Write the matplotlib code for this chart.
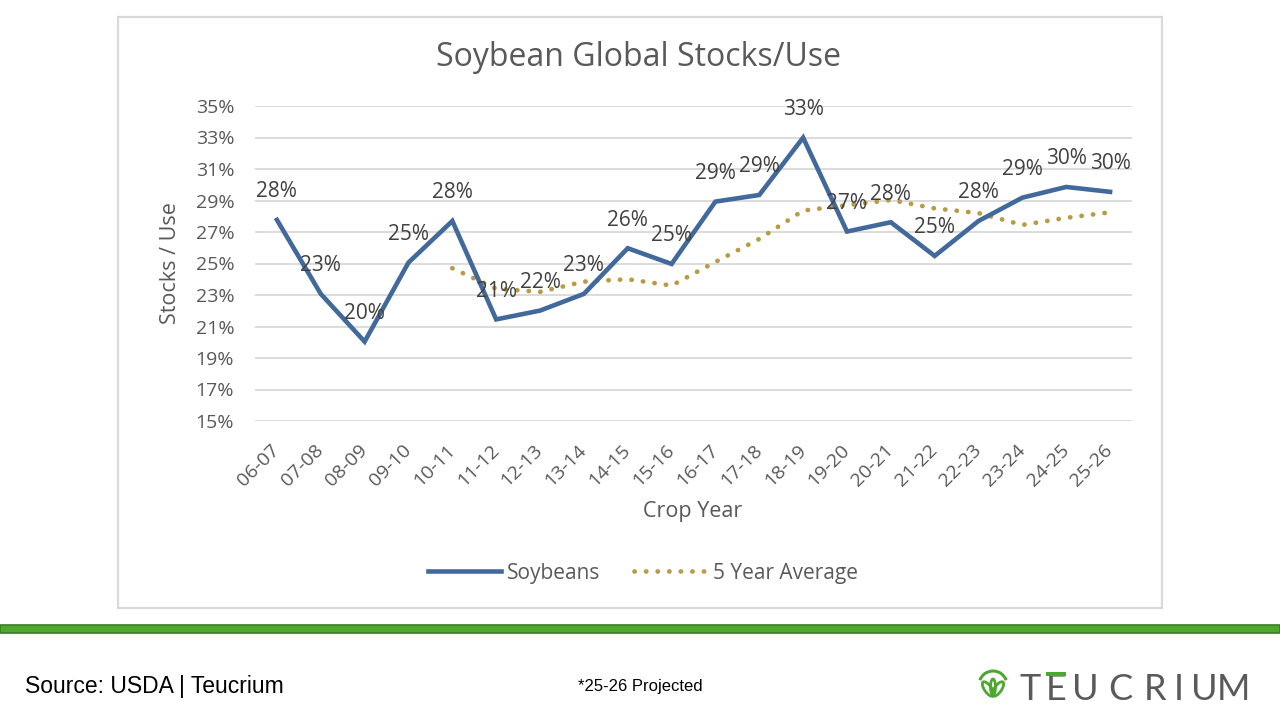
import matplotlib
matplotlib.use("Agg")
import matplotlib.pyplot as plt
from matplotlib.patches import Rectangle, Arc, Ellipse
import matplotlib.transforms as mtransforms

crop_years = ["06-07", "07-08", "08-09", "09-10", "10-11", "11-12", "12-13", "13-14",
              "14-15", "15-16", "16-17", "17-18", "18-19", "19-20", "20-21", "21-22",
              "22-23", "23-24", "24-25", "25-26"]
soybeans = [27.77, 23.07, 20.04, 25.06, 27.70, 21.45, 22.01, 23.07, 25.97, 24.97,
            28.93, 29.35, 32.99, 27.03, 27.62, 25.48, 27.70, 29.18, 29.86, 29.55]
five_year_avg = [None, None, None, None, 24.7, 23.4, 23.2, 23.85, 24.0, 23.6,
                 25.1, 26.56, 28.36, 28.7, 29.03, 28.5, 28.2, 27.45, 27.9, 28.25]
y_ticks = [15, 17, 19, 21, 23, 25, 27, 29, 31, 33, 35]

plt.rcParams['font.family'] = ['Open Sans', 'DejaVu Sans']
TXT = '#595959'
BLUE = '#42699c'
GOLD = '#b89b45'

fig = plt.figure(figsize=(12.8, 7.2), dpi=100)
fig.patch.set_facecolor('white')

# chart frame
fig.patches.append(Rectangle((118/1280, 1-608/720), 1044/1280, 591/720,
                             transform=fig.transFigure, fill=False,
                             edgecolor='#d9d9d9', lw=1.6, zorder=0))
# green band
fig.patches.append(Rectangle((0, 1-633/720), 1, 8/720, transform=fig.transFigure,
                             facecolor='#4ea72e', edgecolor='#3b7d23', lw=1.2, zorder=0))

ax = fig.add_axes([255/1280, 1-421/720, 877/1280, 315/720])
x = list(range(len(crop_years)))
ax.plot(x, soybeans, color=BLUE, lw=3.3, solid_joinstyle='miter', label='Soybeans', zorder=3)
avg_x = [i for i, v in zip(x, five_year_avg) if v is not None]
avg_y = [v for v in five_year_avg if v is not None]
ax.plot(avg_x, avg_y, color=GOLD, lw=3.4, linestyle=(0, (0.05, 2.4)),
        dash_capstyle='round', label='5 Year Average', zorder=2)

for xi, v in zip(x, soybeans):
    ax.annotate(f"{v:.0f}%", (xi, v), xytext=(0, 28), textcoords='offset pixels',
                ha='center', va='center', fontsize=15, color='#404040', zorder=4)

ax.set_xlim(-0.5, len(crop_years) - 0.5)
ax.set_ylim(15, 35)
ax.set_yticks(y_ticks)
ax.set_yticklabels([f"{t}%" for t in y_ticks])
ax.set_xticks(x)
ax.set_xticklabels(crop_years, rotation=45, ha='right', va='center', rotation_mode='anchor')
offset = mtransforms.ScaledTranslation(9/100, 0, fig.dpi_scale_trans)
for lab in ax.get_xticklabels():
    lab.set_transform(lab.get_transform() + offset)
ax.tick_params(axis='both', length=0, labelsize=14, labelcolor=TXT)
ax.tick_params(axis='y', pad=15)
ax.tick_params(axis='x', pad=19)
ax.grid(axis='y', color='#d9d9d9', lw=1.3)
ax.set_axisbelow(True)
for s in ax.spines.values():
    s.set_visible(False)

fig.text(639/1280, 1-58/720, "Soybean Global Stocks/Use", ha='center', va='center',
         fontsize=23, color=TXT)
fig.text(693/1280, 1-511/720, "Crop Year", ha='center', va='center', fontsize=15.5, color=TXT)
fig.text(171/1280, 1-263/720, "Stocks / Use", ha='center', va='center', rotation=90,
         fontsize=15.5, color=TXT)

fig.legend(loc='center', bbox_to_anchor=(643/1280, 1-573/720), ncol=2, frameon=False,
           fontsize=15, handlelength=3.5, handletextpad=0.3, columnspacing=1.6,
           labelcolor=TXT)

# footer
fig.text(25/1280, 1-686/720, "Source: USDA | Teucrium", ha='left', va='center',
         fontsize=16.5, color='black', family=['Liberation Sans Narrow', 'Liberation Sans'])
fig.text(640/1280, 1-686/720, "*25-26 Projected", ha='center', va='center',
         fontsize=12, color='black', family=['Liberation Sans Narrow', 'Liberation Sans'])

# logo
lax = fig.add_axes([968/1280, 1-705/720, 50/1280, 40/720])
lax.set_xlim(-25, 25)
lax.set_ylim(-20, 20)
lax.set_aspect('equal')
lax.axis('off')
lax.add_patch(Arc((0, 0), 28, 28, theta1=20, theta2=160, color='#4ea72e', lw=2.2))
lax.add_patch(Ellipse((-5, -4), 7, 17, angle=35, fill=False, edgecolor='#4ea72e', lw=2))
lax.add_patch(Ellipse((5, -4), 7, 17, angle=-35, fill=False, edgecolor='#4ea72e', lw=2))
lax.add_patch(Ellipse((0, -2), 5, 16, fill=False, edgecolor='#4ea72e', lw=2))

logo_letters = list("TEUCRIUM")
logo_centers = [1030, 1056, 1085, 1120, 1155, 1179, 1204, 1233]
for ch, cx in zip(logo_letters, logo_centers):
    fig.text(cx/1280, 1-689/720, ch, ha='center', va='center', fontsize=26,
             color='#5a5a5c', family=['Lato', 'DejaVu Sans'])
fig.patches.append(Rectangle((1046/1280, 1-675.5/720), 20/1280, 3.5/720,
                             transform=fig.transFigure, facecolor='#4ea72e',
                             edgecolor='none', zorder=5))

fig.savefig("out.png", dpi=100, facecolor='white')
